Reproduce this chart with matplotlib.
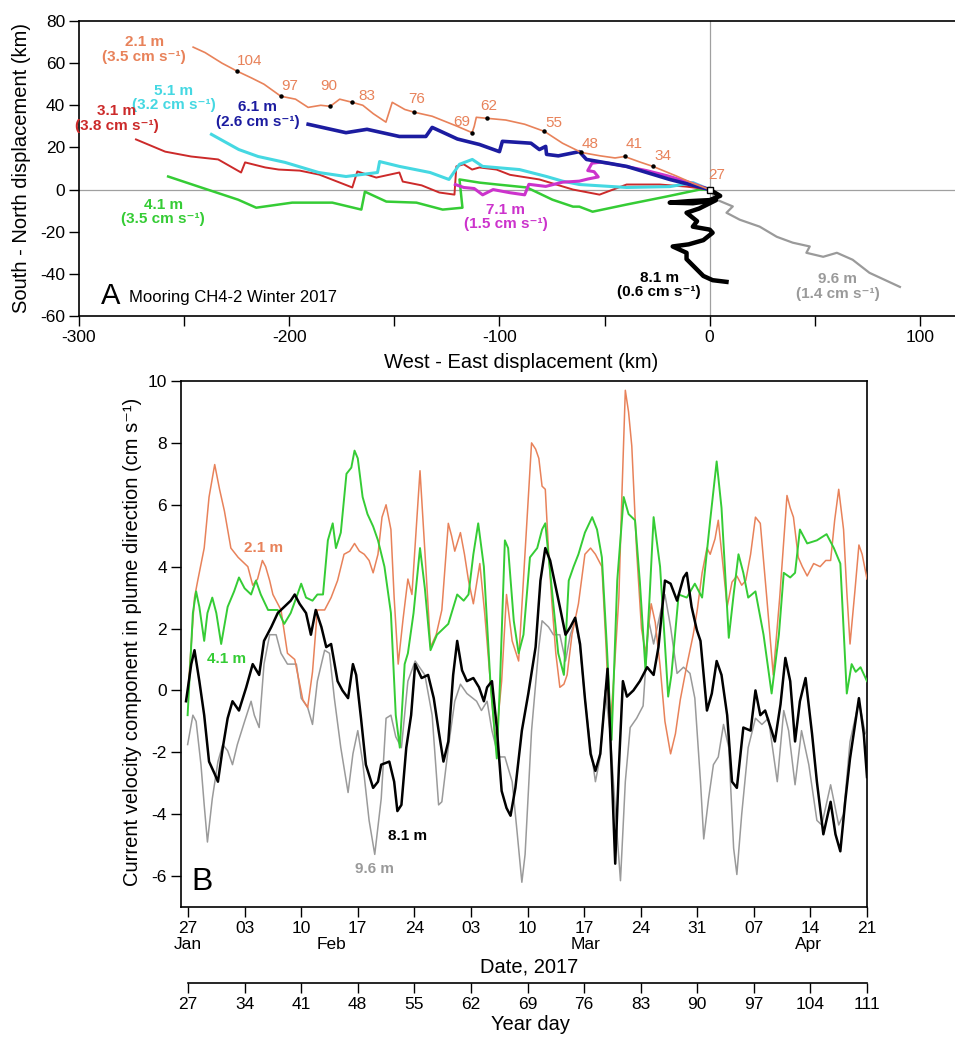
import matplotlib
matplotlib.use('Agg')
import matplotlib.pyplot as plt
from matplotlib import font_manager

# ---------------- panel A: progressive vector trajectories (km) ----------------
x21 = [0, -8, -16, -27, -33, -40.5, -45, -52, -61, -70, -78.6, -88, -97, -105.7, -111, -112, -113,
       -120, -132, -140.5, -145, -151, -154, -160, -165, -170, -176, -180.5, -185, -191, -197, -204,
       -212, -218, -224.8, -232, -240, -245.7]
y21 = [0, 3, 6.5, 11, 13, 15.7, 15, 16, 17.6, 22, 27.6, 31, 33, 33.8, 34.3, 30, 27,
       30, 34.8, 36.7, 38, 41.4, 32, 36, 40, 41.4, 42.9, 39.5, 40, 39, 42.9, 44.3,
       50, 53, 56.2, 60, 65, 67.6]

x31 = [0, -11, -23.8, -39.5, -52.4, -65, -81, -95, -101.4, -109.5, -113, -117, -120.5, -121.4, -128.6,
       -137, -146, -147.6, -158.6, -167.6, -170, -185.7, -195, -205, -211.4, -221, -222.9, -233.8,
       -246.7, -259, -272.9]
y31 = [0, 1.4, 2.4, 2.4, -2.4, 0, 4.8, 7, 9.5, 10.5, 9.5, 12, 11, -2.4, -1.4,
       2, 3.8, 8.1, 5.7, 8.6, 1, 7.1, 9, 9.5, 10.5, 12.9, 8.1, 14.3,
       15.7, 18, 23.8]

x41 = [0, -4.8, -20.5, -39.5, -55.7, -62, -65, -74.8, -87, -101, -109.5, -119, -117.6, -127, -139.5,
       -153.8, -164, -165.7, -179.5, -198.6, -215.7, -224.3, -241.9, -257.6]
y41 = [0, 0, -3.3, -7.1, -10.5, -8.1, -8.1, -4.8, 1, 2.4, 3.3, 4.8, -8.6, -9.5, -6.2,
       -5.7, -1, -9.5, -6.2, -6.2, -8.6, -4.8, 1, 6.2]

x51 = [0, -8, -19, -39.5, -62, -70, -77.6, -90.5, -108, -112.9, -119, -124, -133, -147.6, -157,
       -158, -173, -186, -202, -214.8, -224, -237]
y51 = [0, 3.3, 1.4, 1, 2.4, 4, 6.2, 9.5, 11, 14.3, 12, 4.8, 8.1, 11, 13.3,
       8.1, 6.2, 8.1, 12.9, 15.7, 19, 26.2]

x61 = [0, -19, -39.5, -58.6, -62, -72, -77.6, -78, -81, -85, -98.6, -100, -109.5, -120, -132, -135,
       -147.6, -163, -173, -191]
y61 = [0, 4.8, 11, 14.3, 18, 16, 16.7, 20.5, 19, 22, 22.9, 18, 21.4, 24, 29.5, 25.2,
       25.2, 28.6, 27, 31]

x71 = [0, -10, -20, -30, -40, -48, -52, -56, -58, -55, -53, -58, -62, -70, -78, -86, -88, -95,
       -103, -108, -112, -117, -121]
y71 = [0, 3.5, 6.5, 9, 11, 12.5, 13, 12.5, 9, 8.5, 6, 5, 4, 3.5, 1.5, 2.5, -2.5, -1.5,
       0, -2.5, 0.5, 1, 2.4]

x81 = [0, 5, 0, -10, -19, -8, 3, -5, -11, -6, -8, 0, 1.4, -3, -10, -17.6, -11, -11, -6, -3, 1.4, 8]
y81 = [0, -3, -5, -5.5, -6.2, -6.5, -5, -9, -11, -15, -17.6, -19, -20.5, -24, -26, -27, -30, -33,
       -38, -41, -43, -43.8]

x96 = [0, 3.3, 11, 8, 14.3, 23.8, 31.9, 39.5, 47.6, 46, 54, 60.5, 68, 76, 90.5]
y96 = [0, -4.8, -8, -11, -14.3, -17.6, -22.4, -25.2, -27, -30, -31.9, -30, -33.3, -39.5, -46.2]

# weekly year-day markers along the 2.1 m track
mark_day = ['27', '34', '41', '48', '55', '62', '69', '76', '83', '90', '97', '104']
mark_x = [0, -27, -40.5, -61, -78.6, -105.7, -113, -140.5, -170, -180.5, -204, -224.8]
mark_y = [0, 11, 15.7, 17.6, 27.6, 33.8, 27, 36.7, 41.4, 39.5, 44.3, 56.2]
lab_x = [3.3, -22.4, -36, -57, -74, -105, -118, -139.5, -163, -181, -200, -219]
lab_y = [7, 15.7, 21.4, 21.4, 31.4, 39.5, 32, 42.9, 44.3, 49, 49, 61]

# ---------------- panel B: velocity in plume direction (cm/s) ----------------
day21 = [26.95, 27.8, 28.2, 29.0, 29.6, 30.3, 30.9, 31.5, 32.3, 33.2, 34.4, 35.0, 35.6, 36.2, 36.6,
         37.1, 37.5, 38.5, 39.3, 40.2, 41.2, 41.8, 42.4, 43.0, 43.9, 44.7, 45.5, 46.3, 47.0, 47.6,
         48.2, 48.8, 49.4, 49.9, 50.5, 51.0, 51.5, 52.1, 52.5, 53.0, 53.6, 54.2, 54.7, 55.7, 56.3,
         57.0, 57.7, 58.4, 59.2, 59.6, 60.0, 60.7, 61.2, 61.7, 62.3, 63.1, 63.7, 64.4, 65.0, 65.4,
         65.8, 66.4, 67.1, 67.9, 68.7, 69.5, 70.0, 70.4, 70.8, 71.2, 71.6, 72.0, 72.5, 73.0, 73.5,
         73.9, 74.5, 75.3, 76.1, 76.8, 77.4, 78.2, 78.7, 79.2, 79.7, 80.3, 80.7, 81.1, 81.5, 81.9,
         82.5, 83.1, 83.6, 84.3, 84.8, 85.4, 86.0, 86.7, 87.3, 87.9, 88.7, 89.5, 90.0, 90.6, 91.2,
         91.6, 92.2, 92.6, 93.2, 93.7, 94.3, 94.9, 95.5, 96.0, 96.6, 97.2, 97.8, 98.6, 99.4, 100.2,
         101.1, 101.5, 101.9, 102.5, 103.0, 103.6, 104.4, 105.2, 105.9, 106.5, 107.0, 107.5, 108.1,
         108.5, 108.9, 109.5, 110.0, 110.4, 111.0]
vel21 = [-0.2, 3.0, 3.55, 4.6, 6.25, 7.3, 6.5, 5.8, 4.6, 4.3, 4.0, 3.4, 3.6, 4.2, 4.0,
         3.55, 3.1, 2.6, 1.2, 1.0, -0.3, -0.55, 0.6, 2.6, 2.6, 3.0, 3.55, 4.4, 4.5, 4.75,
         4.5, 4.4, 4.2, 3.8, 4.4, 5.6, 6.0, 5.2, 3.0, 0.85, 2.3, 3.6, 3.1, 7.1, 4.5,
         1.4, 1.8, 2.6, 5.4, 5.0, 4.5, 5.1, 4.4, 3.55, 2.8, 4.1, 2.5, 0.3, -1.6, -0.8,
         0.3, 3.1, 1.6, 0.95, 4.5, 8.0, 7.8, 7.5, 6.6, 6.5, 4.5, 2.9, 1.2, 0.1, 0.2,
         0.5, 1.8, 2.8, 4.4, 4.6, 4.4, 4.0, 1.5, -1.3, 0.5, 3.0, 6.5, 9.7, 9.0, 7.9,
         4.5, 2.0, 1.2, 2.8, 2.2, 0.8, -1.0, -2.05, -1.4, -0.3, 0.8, 1.8, 2.6, 3.8, 4.6,
         4.4, 4.9, 5.5, 4.0, 2.7, 3.5, 3.7, 3.4, 3.55, 4.4, 5.6, 5.4, 3.0, 0.5, 3.0,
         6.3, 5.9, 5.6, 4.3, 4.0, 3.7, 4.1, 4.0, 4.2, 4.2, 5.5, 6.5, 5.2,
         3.2, 1.5, 3.2, 4.7, 4.4, 3.6]

day41 = [26.95, 27.6, 28.0, 28.4, 29.0, 29.4, 30.0, 30.5, 31.1, 31.9, 32.7, 33.3, 34.0, 34.8, 35.4,
         36.0, 36.9, 38.1, 38.9, 39.7, 40.4, 41.0, 41.6, 42.4, 43.0, 43.7, 44.3, 44.9, 45.3, 45.9,
         46.6, 47.2, 47.6, 48.0, 48.6, 49.2, 49.9, 50.5, 51.3, 52.1, 52.7, 53.2, 53.8, 54.2, 54.9,
         55.7, 56.3, 57.0, 57.8, 58.6, 59.2, 60.3, 61.1, 61.7, 62.3, 62.9, 63.6, 64.4, 65.2, 65.6,
         66.2, 66.6, 67.3, 67.9, 68.5, 69.3, 70.2, 70.8, 71.2, 72.0, 72.8, 73.5, 74.1, 74.7, 75.3,
         76.1, 77.0, 77.6, 78.2, 78.8, 79.4, 80.1, 80.9, 81.5, 82.3, 82.9, 83.6, 84.1, 84.6, 85.4,
         86.0, 86.4, 86.8, 87.7, 88.7, 89.7, 90.6, 91.6, 92.4, 93.0, 93.9, 94.5, 95.1, 95.7, 96.3,
         97.2, 98.2, 99.2, 100.1, 100.7, 101.5, 102.1, 102.7, 103.6, 104.8, 106.0, 106.9, 107.7,
         108.5, 109.1, 109.6, 110.2, 111.0]
vel41 = [-0.8, 2.5, 3.2, 2.7, 1.6, 2.5, 3.0, 2.5, 1.5, 2.7, 3.2, 3.65, 3.3, 3.1, 3.55,
         3.1, 2.6, 2.6, 2.15, 2.5, 3.0, 3.45, 3.0, 2.9, 3.1, 3.1, 4.85, 5.4, 4.6, 5.1,
         7.0, 7.2, 7.75, 7.5, 6.25, 5.7, 5.3, 4.85, 4.0, 2.5, -0.8, -1.85, 0.85, 1.2, 2.5,
         4.6, 3.3, 1.3, 1.8, 2.0, 2.15, 3.1, 2.9, 3.1, 4.4, 5.4, 4.0, 0.3, -2.2, 0.3,
         4.85, 4.6, 2.25, 1.2, 1.8, 4.3, 4.6, 5.2, 5.4, 3.3, 1.2, 0.5, 3.55, 4.0, 4.4,
         5.1, 5.6, 5.2, 4.3, 1.5, -1.6, 3.55, 6.25, 5.7, 5.5, 3.5, 0.65, 3.0, 5.6, 4.0,
         1.5, -0.2, 0.5, 3.1, 3.0, 3.45, 3.0, 5.5, 7.4, 5.9, 1.7, 3.1, 4.4, 3.8, 3.0,
         3.2, 1.8, -0.1, 1.8, 3.8, 3.65, 3.8, 5.2, 4.75, 4.85, 5.05, 4.6, 4.1,
         -0.1, 0.85, 0.6, 0.75, 0.3]

day81 = [26.75, 27.4, 27.8, 28.4, 29.0, 29.6, 30.3, 30.7, 31.3, 31.9, 32.5, 33.3, 34.2, 35.0, 35.8,
         36.4, 37.3, 38.1, 38.9, 39.7, 40.2, 40.8, 41.6, 42.2, 42.8, 43.5, 44.1, 44.7, 45.5, 46.1,
         46.8, 47.4, 47.8, 48.4, 49.0, 49.9, 50.5, 50.9, 51.9, 52.5, 52.9, 53.4, 54.0, 54.6, 55.1,
         55.9, 56.7, 57.4, 58.0, 58.6, 59.2, 59.8, 60.3, 60.9, 61.5, 62.3, 63.0, 63.6, 64.0, 64.6,
         65.2, 65.8, 66.4, 66.9, 67.5, 68.3, 69.1, 70.0, 70.6, 71.2, 71.8, 72.4, 73.0, 73.7, 74.3,
         74.9, 75.5, 76.1, 76.8, 77.4, 78.0, 78.9, 79.4, 79.85, 80.3, 80.8, 81.3, 82.1, 82.9, 83.8,
         84.6, 85.2, 86.0, 86.7, 87.5, 88.3, 88.7, 89.3, 89.95, 90.4, 91.2, 91.8, 92.4, 93.0, 93.7,
         94.3, 94.9, 95.7, 96.6, 97.2, 97.8, 98.4, 99.2, 99.6, 100.3, 100.9, 101.5, 102.1, 102.7,
         103.4, 104.2, 104.8, 105.6, 106.5, 107.1, 107.7, 108.3, 108.9, 110.0, 110.6, 111.0]
vel81 = [-0.35, 0.85, 1.3, 0.3, -0.8, -2.3, -2.7, -2.95, -1.85, -0.9, -0.35, -0.65, 0.1, 0.85, 0.5,
         1.6, 2.05, 2.5, 2.7, 2.9, 3.1, 2.8, 2.5, 1.8, 2.6, 2.05, 1.4, 1.5, 0.3, 0.0,
         -0.25, 0.85, 0.5, -0.9, -2.4, -3.15, -2.95, -2.4, -2.3, -2.95, -3.9, -3.7, -1.85, -0.8, 0.85,
         0.4, 0.5, -0.25, -1.3, -2.3, -1.65, 0.5, 1.6, 0.65, 0.3, 0.4, 0.1, -0.35, 0.1, 0.3,
         -1.2, -3.25, -3.8, -4.05, -3.15, -1.3, -0.1, 1.4, 3.55, 4.6, 4.2, 3.45, 2.7, 1.8, 2.05,
         2.35, 1.5, -0.25, -2.05, -2.6, -2.05, 0.7, -2.5, -5.6, -2.5, 0.3, -0.2, 0.0, 0.3, 0.75,
         0.5, 1.4, 3.55, 3.45, 2.9, 3.65, 3.8, 2.7, 1.95, 1.6, -0.65, -0.1, 0.95, 0.5, -0.8,
         -2.95, -3.15, -1.2, -1.3, 0.0, -0.8, -0.65, -1.3, -1.65, -0.45, 1.05, 0.3, -1.65, -0.35,
         0.4, -1.4, -2.95, -4.65, -3.6, -4.65, -5.2, -3.6, -2.2, -0.25, -1.4, -2.8]

day96 = [26.95, 27.6, 28.0, 28.6, 29.0, 29.4, 30.0, 30.7, 31.3, 31.9, 32.5, 33.1, 34.0, 34.8, 35.2,
         35.8, 36.4, 37.1, 37.9, 38.5, 39.3, 40.4, 41.0, 41.8, 42.4, 43.0, 43.9, 44.5, 45.1, 45.9,
         46.8, 47.4, 48.0, 48.6, 49.4, 50.1, 50.9, 51.5, 52.1, 52.7, 53.4, 54.2, 55.1, 56.3, 57.2,
         58.0, 58.4, 59.2, 60.0, 60.7, 61.5, 62.7, 63.3, 64.0, 64.6, 65.4, 66.2, 67.1, 67.7, 68.3,
         68.7, 69.5, 70.4, 70.8, 71.6, 72.2, 73.0, 73.7, 74.3, 74.9, 75.5, 76.1, 76.8, 77.4, 78.0,
         78.6, 79.2, 79.9, 80.5, 81.1, 81.7, 82.5, 83.3, 84.0, 84.6, 85.6, 86.0, 86.7, 87.5, 88.3,
         89.1, 89.7, 90.4, 90.8, 91.4, 92.0, 92.6, 93.25, 93.9, 94.5, 94.9, 95.5, 96.3, 97.2, 98.0,
         98.8, 99.9, 100.7, 101.3, 102.1, 102.9, 103.8, 104.8, 105.4, 106.5, 107.5, 108.1, 108.9,
         110.0, 110.8]
vel96 = [-1.75, -0.8, -1.0, -2.4, -3.7, -4.9, -3.5, -2.3, -1.75, -1.95, -2.4, -1.75, -1.0, -0.35, -0.8,
         -1.2, 0.85, 1.8, 1.8, 1.2, 0.85, 0.85, -0.25, -0.55, -1.1, 0.3, 1.3, 1.2, -0.25, -1.85,
         -3.3, -2.05, -1.3, -2.3, -4.2, -5.3, -3.5, -0.9, -0.8, -1.5, -1.85, 0.3, 0.95, 0.5, -0.8,
         -3.7, -3.6, -1.85, -0.35, 0.2, -0.1, -0.35, -0.65, -0.35, -1.3, -2.15, -2.15, -2.95, -4.55, -6.2,
         -5.3, -1.3, 1.4, 2.25, 2.05, 1.8, 1.8, 0.95, 1.8, 2.25, 1.4, -0.25, -1.85, -2.95, -2.15,
         0.0, -1.3, -4.0, -6.15, -2.95, -1.2, -0.9, -0.5, 2.25, 1.5, 2.7, 3.1, 2.05, 0.55, 0.75,
         0.55, -0.25, -2.95, -4.8, -3.5, -2.4, -2.15, -1.1, -1.85, -5.1, -5.95, -4.0, -1.85, -0.9, -1.1,
         -0.9, -2.95, -0.65, -1.3, -3.05, -1.3, -2.4, -4.2, -4.35, -3.05, -4.35, -4.0, -1.65,
         -0.35, -1.4]

date_ticks = [27, 34, 41, 48, 55, 62, 69, 76, 83, 90, 97, 104, 111]
date_labels = ['27', '03', '10', '17', '24', '03', '10', '17', '24', '31', '07', '14', '21']
month_names = ['Jan', 'Feb', 'Mar', 'Apr']
month_days = [27, 44.8, 76.2, 103.7]

# ---------------- fonts ----------------
names = {f.name for f in font_manager.fontManager.ttflist}
narrow = 'Liberation Sans Narrow' if 'Liberation Sans Narrow' in names else 'Liberation Sans'
plt.rcParams['font.family'] = ['Liberation Sans', 'DejaVu Sans']
plt.rcParams['axes.unicode_minus'] = False
lab_font = [narrow, 'DejaVu Sans']

c21 = '#E8825A'
c31 = '#CC2A2A'
c41 = '#35CC35'
c51 = '#45D8E2'
c61 = '#1C1CA0'
c71 = '#CC33CC'
c96 = '#9A9A9A'

fig = plt.figure(figsize=(9.55, 10.42), dpi=100)
W, H = 955.0, 1042.0

# ---------------- panel A ----------------
ax1 = fig.add_axes([79 / W, 1 - 316 / H, (955 - 79) / W, (316 - 21) / H])
ax1.axhline(0, color='#a0a0a0', lw=0.9, zorder=1)
ax1.axvline(0, color='#a0a0a0', lw=0.9, zorder=1)
ax1.plot(x96, y96, color=c96, lw=1.6, zorder=3)
ax1.plot(x81, y81, color='black', lw=3.2, zorder=3)
ax1.plot(x41, y41, color=c41, lw=1.8, zorder=3)
ax1.plot(x31, y31, color=c31, lw=1.4, zorder=4)
ax1.plot(x51, y51, color=c51, lw=2.2, zorder=4)
ax1.plot(x71, y71, color=c71, lw=2.2, zorder=5)
ax1.plot(x61, y61, color=c61, lw=2.6, zorder=5)
ax1.plot(x21, y21, color=c21, lw=1.2, zorder=6)
ax1.plot(mark_x[1:], mark_y[1:], 'o', color='black', ms=2.2, zorder=7)
ax1.plot([0], [0], 's', mfc='white', mec='black', ms=4, mew=1, zorder=8)
for d, lx, ly in zip(mark_day, lab_x, lab_y):
    ax1.text(lx, ly, d, color=c21, fontsize=11, family=lab_font, ha='center', va='center')

top_labels = [
    (-269, 66.5, '2.1 m\n(3.5 cm s⁻¹)', c21),
    (-255, 43.5, '5.1 m\n(3.2 cm s⁻¹)', c51),
    (-282, 33.8, '3.1 m\n(3.8 cm s⁻¹)', c31),
    (-215, 35.7, '6.1 m\n(2.6 cm s⁻¹)', c61),
    (-260, -10.7, '4.1 m\n(3.5 cm s⁻¹)', c41),
    (-97, -13.1, '7.1 m\n(1.5 cm s⁻¹)', c71),
    (-24, -45.2, '8.1 m\n(0.6 cm s⁻¹)', 'black'),
    (61, -46, '9.6 m\n(1.4 cm s⁻¹)', c96),
]
for tx, ty, s, c in top_labels:
    ax1.text(tx, ty, s, color=c, fontsize=11, family=lab_font, fontweight='bold',
             ha='center', va='center', linespacing=1.05)

ax1.text(-284.8, -50.5, 'A', fontsize=21, ha='center', va='center')
ax1.text(-276, -51.4, 'Mooring CH4-2 Winter 2017', fontsize=12, ha='left', va='center')

ax1.set_xlim(-300, 116.7)
ax1.set_ylim(-60, 80)
ax1.set_xticks(range(-300, 101, 50))
ax1.set_xticklabels(['-300', '', '-200', '', '-100', '', '0', '', '100'])
ax1.set_yticks(range(-60, 81, 20))
ax1.tick_params(direction='out', length=7, width=1, labelsize=12.5, pad=3)
ax1.spines['right'].set_visible(False)
for s in ['left', 'bottom', 'top']:
    ax1.spines[s].set_linewidth(1.2)

fig.text(22 / W, 1 - 168 / H, 'South - North displacement (km)', rotation=90,
         ha='center', va='center', fontsize=14.5)
fig.text(521 / W, 1 - 362 / H, 'West - East displacement (km)', ha='center', va='center', fontsize=14.5)

# ---------------- panel B ----------------
ax2 = fig.add_axes([181 / W, 1 - 907 / H, (867 - 181) / W, (907 - 381) / H])
ax2.plot(day96, vel96, color=c96, lw=1.1, zorder=3)
ax2.plot(day21, vel21, color=c21, lw=1.1, zorder=4)
ax2.plot(day41, vel41, color=c41, lw=1.4, zorder=5)
ax2.plot(day81, vel81, color='black', lw=1.8, zorder=6)

ax2.text(36.3, 4.6, '2.1 m', color=c21, fontsize=11, family=lab_font, fontweight='bold', ha='center', va='center')
ax2.text(31.8, 1.03, '4.1 m', color=c41, fontsize=11, family=lab_font, fontweight='bold', ha='center', va='center')
ax2.text(54.2, -4.7, '8.1 m', color='black', fontsize=11, family=lab_font, fontweight='bold', ha='center', va='center')
ax2.text(50.1, -5.77, '9.6 m', color=c96, fontsize=11, family=lab_font, fontweight='bold', ha='center', va='center')
ax2.text(28.7, -6.2, 'B', fontsize=23, ha='center', va='center')

ax2.set_xlim(26.13, 111)
ax2.set_ylim(-7, 10)
ax2.set_yticks(range(-6, 11, 2))
ax2.set_xticks(date_ticks)
ax2.set_xticklabels(date_labels)
ax2.tick_params(direction='out', length=7, width=1, labelsize=12.5, pad=3)
for s in ax2.spines.values():
    s.set_linewidth(1.2)
trans = ax2.get_xaxis_transform()
for m, d in zip(month_names, month_days):
    ax2.text(d, -0.072, m, transform=trans, ha='center', va='center', fontsize=12.5)

fig.text(133 / W, 1 - 642 / H, 'Current velocity component in plume direction (cm s⁻¹)',
         rotation=90, ha='center', va='center', fontsize=14.5)
fig.text(529 / W, 1 - 967 / H, 'Date, 2017', ha='center', va='center', fontsize=14.5)

# year-day axis
ax3 = fig.add_axes([188 / W, 1 - 983 / H, (867 - 188) / W, 0.0001])
ax3.set_xlim(27, 111)
ax3.set_xticks(date_ticks)
ax3.set_yticks([])
for s in ['left', 'right', 'top']:
    ax3.spines[s].set_visible(False)
ax3.spines['bottom'].set_linewidth(1.2)
ax3.patch.set_visible(False)
ax3.tick_params(direction='out', length=7, width=1, labelsize=12.5, pad=3)
fig.text(530 / W, 1 - 1025 / H, 'Year day', ha='center', va='center', fontsize=14.5)

fig.savefig('out.png', dpi=100)
